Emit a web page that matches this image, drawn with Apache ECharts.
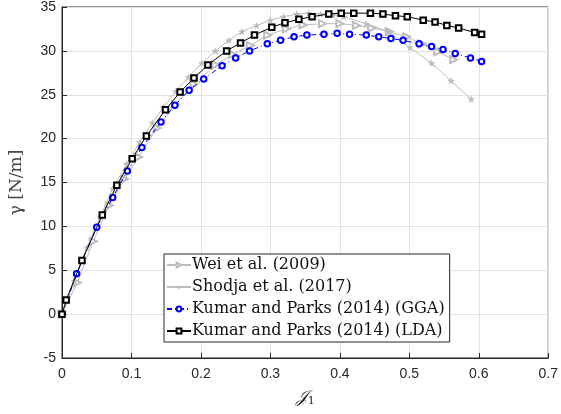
<!DOCTYPE html>
<html>
<head>
<meta charset="utf-8">
<script src="https://cdn.jsdelivr.net/npm/echarts@6/dist/echarts.min.js"></script>
<style>html,body{margin:0;padding:0;background:#fff;}#c{width:561px;height:414px;}</style>
</head>
<body>
<div id="c"></div>
<script>
var xTicks = ['0','0.1','0.2','0.3','0.4','0.5','0.6','0.7'];
var yTicks = ['-5','0','5','10','15','20','25','30','35'];
var seriesNames = ['Wei et al. (2009)','Shodja et al. (2017)','Kumar and Parks (2014) (GGA)','Kumar and Parks (2014) (LDA)'];

var weiJ = [0, 0.022, 0.045, 0.068, 0.090, 0.110, 0.137, 0.163, 0.190, 0.221, 0.246, 0.271, 0.296, 0.323, 0.347, 0.375, 0.400, 0.424, 0.446, 0.471, 0.496, 0.518, 0.541, 0.564];
var weiG = [0, 3.6, 8.3, 12.4, 15.4, 17.9, 21.2, 23.9, 26.2, 28.4, 29.6, 30.6, 31.8, 32.5, 32.95, 33.1, 33.1, 32.9, 32.6, 32.2, 31.6, 30.8, 29.9, 29.0];

var shoJ = [0, 0.018, 0.036, 0.055, 0.073, 0.093, 0.112, 0.130, 0.146, 0.164, 0.182, 0.201, 0.221, 0.240, 0.259, 0.280, 0.300, 0.319, 0.338, 0.355, 0.372, 0.390, 0.406, 0.438, 0.470, 0.501, 0.532, 0.560, 0.589];
var shoG = [0, 3.8, 7.6, 11.1, 14.3, 17.1, 19.6, 21.8, 23.6, 25.4, 27.0, 28.6, 30.0, 31.2, 32.2, 32.9, 33.5, 33.9, 34.2, 34.3, 34.2, 34.1, 33.9, 33.1, 32.2, 30.4, 28.6, 26.6, 24.5];

var ggaJ = [0, 0.021, 0.050, 0.073, 0.094, 0.115, 0.1425, 0.1625, 0.183, 0.204, 0.2305, 0.250, 0.270, 0.2955, 0.3146, 0.334, 0.3525, 0.377, 0.396, 0.414, 0.438, 0.456, 0.4735, 0.491, 0.514, 0.532, 0.5485, 0.566, 0.588, 0.604];
var ggaG = [0, 4.6, 9.9, 13.3, 16.3, 19.0, 21.9, 23.8, 25.5, 26.8, 28.3, 29.2, 30.0, 30.8, 31.2, 31.6, 31.8, 31.9, 32.0, 31.9, 31.8, 31.6, 31.4, 31.2, 30.8, 30.5, 30.15, 29.7, 29.2, 28.8];

var ldaJ = [0, 0.006, 0.0287, 0.058, 0.079, 0.101, 0.1215, 0.149, 0.170, 0.190, 0.210, 0.237, 0.257, 0.277, 0.302, 0.321, 0.341, 0.360, 0.384, 0.402, 0.420, 0.444, 0.462, 0.480, 0.497, 0.520, 0.537, 0.554, 0.571, 0.594, 0.604];
var ldaG = [0, 1.6, 6.1, 11.3, 14.7, 17.7, 20.3, 23.3, 25.3, 26.9, 28.4, 30.0, 30.9, 31.8, 32.7, 33.2, 33.6, 33.9, 34.2, 34.3, 34.3, 34.3, 34.2, 34.0, 33.9, 33.5, 33.3, 32.9, 32.6, 32.1, 31.9];

function pairs(xs, ys) { return xs.map(function (x, i) { return [x, ys[i]]; }); }

var starPath = 'path://M0,-10 L2.35,-3.24 L9.51,-3.09 L3.8,1.24 L5.88,8.09 L0,4 L-5.88,8.09 L-3.8,1.24 L-9.51,-3.09 L-2.35,-3.24 Z';
var axisColor = '#262626';
var grayC = '#bdbdbd';

var chart = echarts.init(document.getElementById('c'), null, {renderer: 'canvas'});
chart.setOption({
  animation: false,
  backgroundColor: '#fff',
  grid: {left: 61, right: 12, top: 6, bottom: 56, show: true, borderColor: axisColor, borderWidth: 1, backgroundColor: 'transparent'},
  xAxis: {
    type: 'value', min: 0, max: 0.7, interval: 0.1,
    axisLine: {onZero: false, lineStyle: {color: axisColor}},
    axisTick: {inside: true, length: 5, lineStyle: {color: axisColor}},
    axisLabel: {color: axisColor, fontSize: 14, fontFamily: 'Liberation Sans, Arial, sans-serif', margin: 9,
      formatter: function (v) { var i = Math.round(v / 0.1); return xTicks[i] !== undefined ? xTicks[i] : ''; }},
    splitLine: {show: true, lineStyle: {color: '#e3e3e3', width: 1}},
    name: '{a|𝒥}{b|1}', nameLocation: 'middle', nameGap: 30,
    nameTextStyle: {rich: {
      a: {fontFamily: 'DejaVu Serif, serif', fontSize: 17, fontStyle: 'italic', color: axisColor},
      b: {fontFamily: 'DejaVu Serif, serif', fontSize: 11, color: axisColor, verticalAlign: 'bottom', padding: [8, 0, 0, 0]}
    }}
  },
  yAxis: {
    type: 'value', min: -5, max: 35, interval: 5,
    axisLine: {show: true, onZero: false, lineStyle: {color: axisColor}},
    axisTick: {show: true, inside: true, length: 5, lineStyle: {color: axisColor}},
    axisLabel: {color: axisColor, fontSize: 14, fontFamily: 'Liberation Sans, Arial, sans-serif', margin: 6,
      formatter: function (v) { var i = Math.round((v + 5) / 5); return yTicks[i] !== undefined ? yTicks[i] : ''; }},
    splitLine: {show: true, lineStyle: {color: '#e3e3e3', width: 1}},
    name: 'γ [N/m]', nameLocation: 'middle', nameGap: 37,
    nameTextStyle: {fontFamily: 'DejaVu Serif, serif', fontSize: 17, color: '#444'}
  },
  legend: {
    orient: 'vertical', left: 164, top: 254,
    backgroundColor: '#fff', borderColor: axisColor, borderWidth: 1,
    padding: [3, 5, 3, 2], itemGap: 6, itemWidth: 24, itemHeight: 6,
    textStyle: {fontFamily: 'DejaVu Serif, serif', fontSize: 16, color: '#111', padding: [0, 0, 0, -4]},
    data: seriesNames
  },
  series: [
    {name: seriesNames[0], type: 'line', data: pairs(weiJ, weiG), symbol: 'emptyTriangle', symbolSize: 7, symbolRotate: -90,
      lineStyle: {color: grayC, width: 1}, itemStyle: {color: grayC, borderColor: grayC, borderWidth: 1}, z: 2},
    {name: seriesNames[1], type: 'line', data: pairs(shoJ, shoG), symbol: starPath, symbolSize: 8, symbolKeepAspect: true,
      lineStyle: {color: grayC, width: 1}, itemStyle: {color: grayC, borderColor: grayC, borderWidth: 0}, z: 3},
    {name: seriesNames[2], type: 'line', data: pairs(ggaJ, ggaG), symbol: 'emptyCircle', symbolSize: 5.5,
      lineStyle: {color: '#0000ff', width: 1, type: [5, 3, 1, 3]}, itemStyle: {color: '#0000ff', borderColor: '#0000ff', borderWidth: 1}, z: 4},
    {name: seriesNames[3], type: 'line', data: pairs(ldaJ, ldaG), symbol: 'emptyRect', symbolSize: 5.5,
      lineStyle: {color: '#000', width: 1}, itemStyle: {color: '#000', borderColor: '#000', borderWidth: 1}, z: 5}
  ]
});
</script>
</body>
</html>
